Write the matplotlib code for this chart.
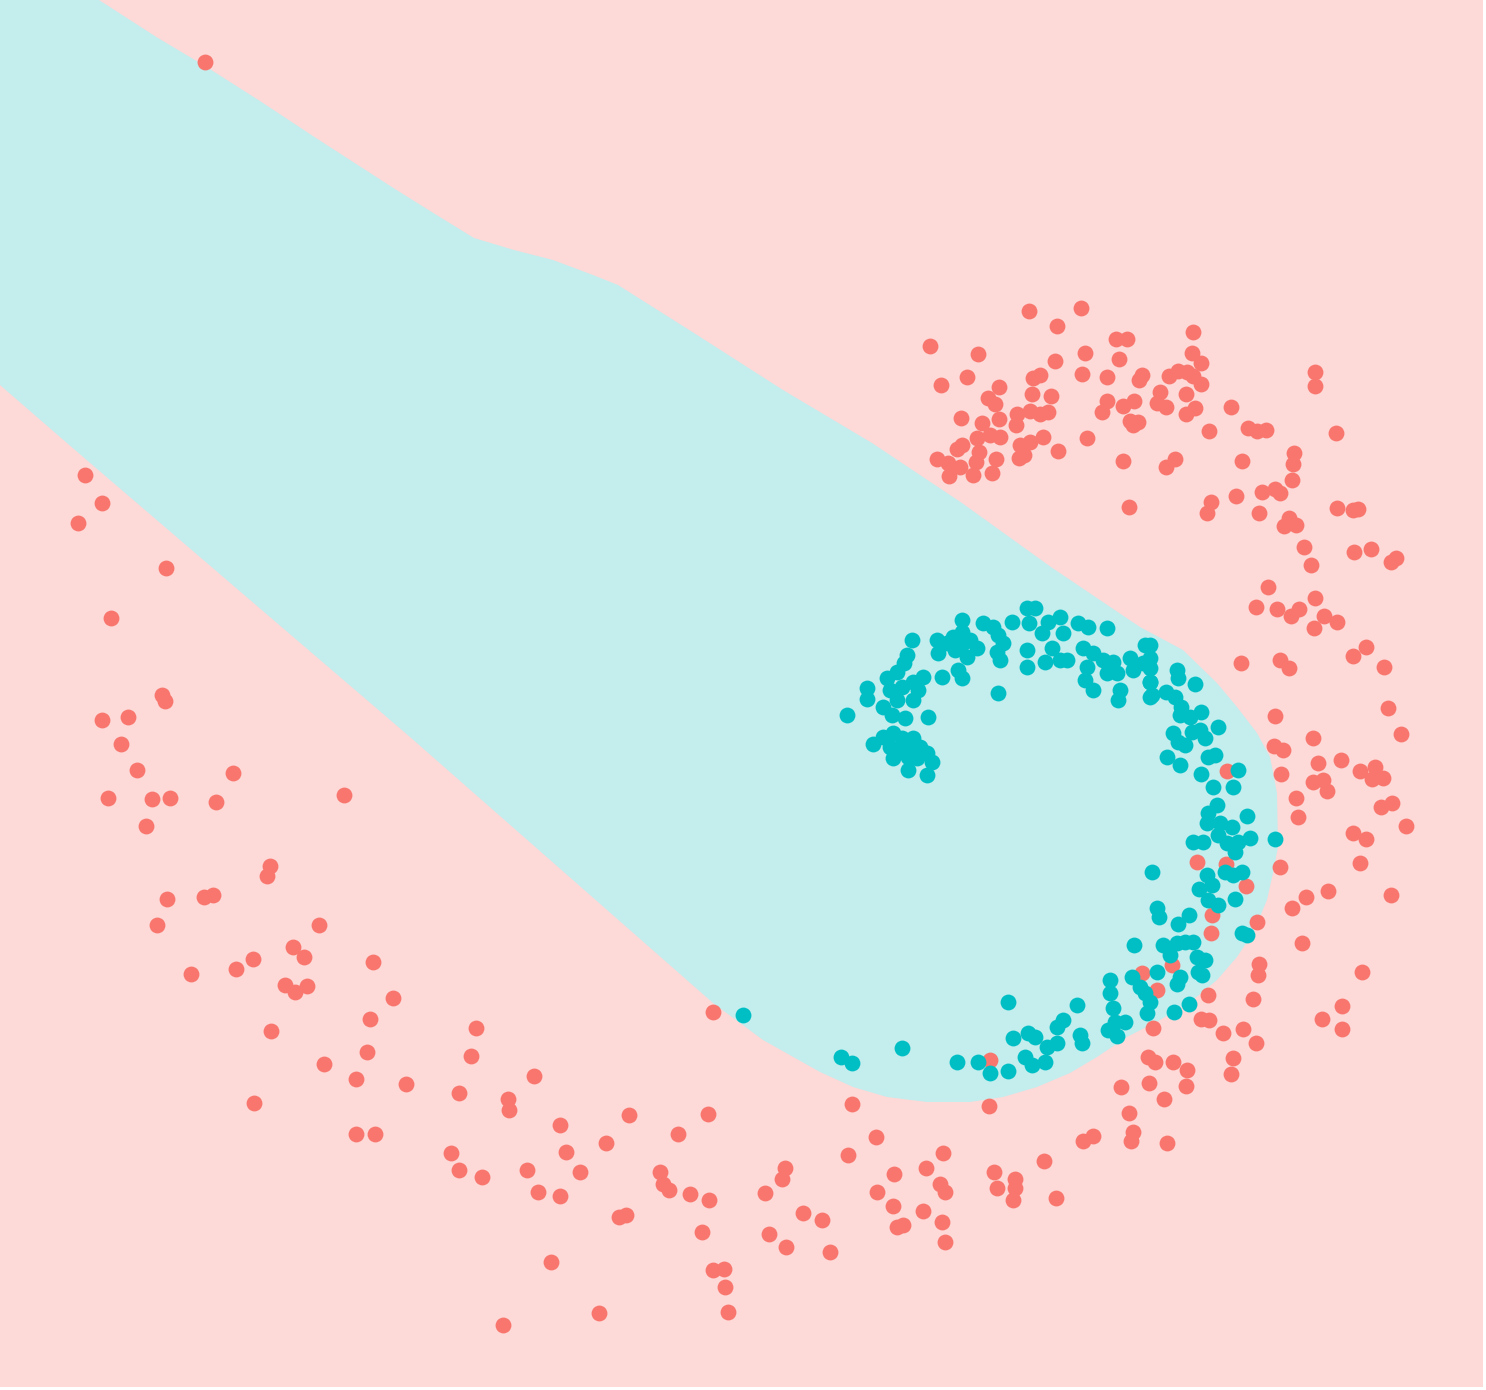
import numpy as np
import matplotlib
matplotlib.use("Agg")
import matplotlib.pyplot as plt

# ==================== DATA (image pixel coords, y down) ====================
# cyan decision region outline
region_x = [0, 99, 158, 205, 260, 316, 395, 435, 474, 514, 553, 593, 618, 694, 783,
            872, 962, 1051, 1140, 1183, 1217, 1237, 1257, 1270, 1277, 1278, 1273,
            1267, 1253, 1237, 1217, 1193, 1160, 1127, 1097, 1070, 1037, 1003, 970,
            927, 887, 853, 820, 763, 713, 410, 75, 0]
region_y = [0, 0, 38, 66, 101, 138, 189, 214, 238, 250, 260, 275, 285, 333, 390,
            443, 503, 567, 627, 650, 683, 707, 733, 757, 793, 847, 873,
            900, 933, 957, 980, 1000, 1020, 1037, 1057, 1073, 1087, 1097, 1102,
            1102, 1097, 1087, 1072, 1040, 1003, 737, 450, 385]

# class 1 (red) points
red_points = np.array([
    (205, 62),
    # top right arc
    (930, 346), (1029, 311), (1081, 308), (1057, 326), (978, 354), (941, 385), (967, 377),
    (999, 387), (988, 398), (995, 404), (961, 418), (982, 423), (999, 419), (1017, 414),
    (1016, 425), (1030, 411), (1040, 414), (1048, 412), (1032, 394), (1051, 396), (1033, 378),
    (1040, 375), (1055, 361), (1085, 353), (1082, 374), (1116, 339), (1127, 339), (1119, 359),
    (1107, 377), (1142, 375), (1139, 380), (1107, 401), (1102, 412), (1123, 406), (1134, 401),
    (1130, 421), (1138, 422), (1133, 425), (1193, 332), (1192, 353), (1201, 363), (1169, 376),
    (1178, 371), (1187, 372), (1193, 376), (1201, 384), (1160, 392), (1157, 403), (1166, 407),
    (1186, 394), (1186, 414), (1195, 408), (977, 438), (990, 435), (1000, 437), (962, 445),
    (957, 449), (979, 452), (937, 459), (948, 463), (960, 467), (976, 462), (949, 476),
    (973, 475), (996, 459), (992, 473), (1020, 445), (1030, 442), (1043, 437), (1019, 458),
    (1024, 455), (1058, 451), (1087, 438), (1123, 461), (1166, 467), (1175, 459), (1129, 507),
    (1209, 431), (1231, 407), (1248, 428), (1257, 431), (1266, 430), (1315, 372), (1315, 386),
    (1336, 433), (1294, 453), (1293, 464), (1242, 461), (1292, 480), (1262, 492), (1275, 489),
    (1280, 493), (1236, 496), (1211, 502), (1207, 513), (1259, 513), (1289, 518), (1284, 526),
    (1296, 525), (1337, 508), (1353, 510), (1358, 509), (1304, 547), (1354, 552), (1371, 549),
    (1311, 565), (1391, 562), (1396, 558),
    # right side
    (1268, 587), (1256, 607), (1277, 609), (1299, 609), (1291, 616), (1315, 598), (1324, 616),
    (1337, 622), (1314, 628), (1241, 663), (1280, 660), (1289, 668), (1353, 656), (1366, 647),
    (1384, 667), (1275, 716), (1313, 738), (1388, 708), (1401, 734), (1274, 746), (1283, 750),
    (1281, 774), (1318, 763), (1341, 760), (1360, 771), (1375, 767), (1383, 778), (1372, 779),
    (1313, 782), (1323, 780), (1327, 791), (1296, 798), (1298, 817), (1381, 807), (1392, 803),
    (1406, 826), (1353, 833), (1366, 839), (1227, 771),
    # lower right
    (1197, 862), (1226, 864), (1246, 886), (1280, 867), (1360, 863), (1391, 895), (1328, 891),
    (1306, 897), (1292, 908), (1257, 922), (1212, 915), (1211, 933), (1302, 943), (1259, 964),
    (1258, 975), (1362, 972), (1142, 973), (1157, 990), (1172, 965), (1208, 995), (1253, 999),
    (1342, 1006), (1322, 1019), (1342, 1029), (1201, 1019), (1209, 1020), (1223, 1033),
    (1243, 1029), (1256, 1043), (1153, 1028), (1233, 1058), (1231, 1074), (1148, 1057),
    (1155, 1062), (1173, 1062), (1187, 1070), (1186, 1086), (1149, 1083), (1121, 1087),
    (1164, 1099), (1129, 1113), (1133, 1132), (1131, 1141), (1167, 1143), (1093, 1136),
    (1083, 1141),
    # bottom
    (990, 1060), (852, 1104), (989, 1106), (876, 1137), (848, 1155), (943, 1153), (894, 1174),
    (926, 1168), (940, 1184), (945, 1192), (877, 1192), (893, 1206), (923, 1211), (897, 1227),
    (903, 1225), (942, 1222), (945, 1242), (994, 1172), (997, 1188), (1015, 1179), (1015, 1188),
    (1013, 1200), (1044, 1161), (1056, 1198), (822, 1220), (830, 1252),
    (713, 1012), (476, 1028), (471, 1056), (534, 1076), (459, 1093), (508, 1099), (509, 1110),
    (560, 1125), (629, 1115), (708, 1114), (678, 1134), (606, 1143), (451, 1153), (566, 1152),
    (459, 1170), (482, 1177), (527, 1170), (580, 1172), (538, 1192), (560, 1196), (660, 1172),
    (663, 1184), (669, 1190), (690, 1194), (709, 1200), (785, 1168), (782, 1179), (765, 1193),
    (803, 1213), (769, 1234), (786, 1247), (619, 1217), (626, 1215), (702, 1232),
    (713, 1270), (724, 1269), (725, 1287), (728, 1312), (551, 1262), (599, 1313), (503, 1325),
    # lower left
    (270, 866), (267, 876), (167, 899), (204, 897), (213, 895), (157, 925), (319, 925),
    (293, 947), (304, 957), (253, 959), (236, 969), (191, 974), (285, 985), (295, 992),
    (307, 986), (373, 962), (393, 998), (370, 1019), (271, 1031), (367, 1052), (324, 1064),
    (356, 1079), (406, 1084), (254, 1103), (356, 1134), (375, 1134),
    # left
    (85, 475), (102, 503), (78, 523), (166, 568), (111, 618), (162, 695), (165, 701),
    (102, 720), (128, 717), (121, 744), (137, 770), (233, 773), (108, 798), (152, 799),
    (170, 798), (216, 802), (146, 826), (344, 795),
])

# class 2 (cyan) points
cyan_points = np.array([
    # inner spiral head
    (847, 715), (873, 744), (867, 688), (867, 699), (912, 640), (907, 655), (904, 663),
    (897, 672), (887, 678), (890, 690), (902, 687), (913, 682), (923, 677), (918, 690),
    (913, 700), (897, 700), (883, 707), (892, 715), (905, 718), (928, 717), (883, 737),
    (893, 733), (902, 738), (913, 738), (890, 747), (900, 750), (910, 747), (920, 747),
    (927, 753), (893, 758), (908, 757), (917, 758), (932, 762), (908, 770), (927, 775),
    # top of spiral
    (937, 640), (938, 653), (942, 677), (947, 643), (955, 650), (953, 637), (962, 620),
    (962, 632), (963, 643), (967, 657), (958, 670), (962, 678), (970, 640), (977, 648),
    (983, 623), (993, 627), (998, 635), (1003, 643), (1012, 622), (997, 652), (1000, 660),
    (998, 693), (1027, 608), (1035, 608), (1029, 623), (1027, 650), (1027, 667), (1042, 633),
    (1048, 622), (1060, 617), (1052, 648), (1063, 633), (1045, 662), (1060, 660), (1067, 660),
    (1078, 623), (1088, 627), (1107, 628), (1083, 648), (1093, 653), (1087, 667), (1085, 680),
    (1093, 690), (1103, 660), (1113, 662), (1107, 673), (1117, 673), (1120, 690), (1118, 700),
    (1130, 658), (1133, 670), (1145, 645), (1143, 663), (1150, 682), (1150, 697),
    # right of spiral
    (1150, 645), (1150, 658), (1150, 668), (1150, 682), (1152, 695), (1177, 670), (1178, 678),
    (1195, 684), (1166, 692), (1175, 697), (1181, 707), (1180, 715), (1190, 717), (1201, 712),
    (1173, 733), (1178, 742), (1185, 745), (1192, 732), (1200, 730), (1205, 738), (1218, 727),
    (1167, 757), (1180, 765), (1208, 757), (1215, 755), (1201, 774), (1238, 770),
    (1213, 787), (1233, 787), (1217, 805), (1208, 813), (1207, 823), (1220, 823), (1232, 827),
    (1247, 816), (1275, 839), (1193, 842), (1203, 842), (1218, 835), (1227, 843), (1238, 842),
    (1250, 838), (1235, 852), (1233, 875), (1242, 872), (1225, 872), (1207, 875), (1212, 885),
    (1199, 889), (1152, 872), (1208, 900), (1218, 905), (1235, 899), (1157, 908), (1159, 917),
    (1189, 915), (1178, 924), (1242, 933), (1247, 935),
    # lower part of spiral
    (1134, 945), (1163, 945), (1177, 943), (1185, 942), (1193, 942), (1170, 955), (1197, 957),
    (1205, 960), (1198, 972), (1202, 975), (1157, 972), (1180, 977), (1177, 984), (1132, 977),
    (1140, 987), (1145, 993), (1150, 1002), (1147, 1013), (1110, 980), (1110, 993),
    (1113, 1008), (1115, 1022), (1125, 1022), (1108, 1030), (1117, 1036), (1174, 1012),
    (1189, 1004), (1077, 1005), (1063, 1020), (1057, 1027), (1080, 1035), (1082, 1043),
    (1057, 1043), (1047, 1047), (1025, 1057), (1032, 1065), (1045, 1062), (1028, 1033),
    (1035, 1037), (1013, 1038), (1008, 1002), (978, 1062), (990, 1073), (1008, 1071),
    (957, 1062), (841, 1057), (852, 1063), (902, 1048), (743, 1015),
])

# ==================== PLOT ====================
W, H = 1486, 1390
fig = plt.figure(figsize=(W / 100, H / 100), dpi=100)
ax = fig.add_axes([0, 3 / H, 1483 / W, 1387 / H])
ax.set_xlim(0, 1483)
ax.set_ylim(1387, 0)
ax.axis('off')
ax.add_patch(plt.Rectangle((0, 0), 1483, 1387, color='#FDD9D8', zorder=0))

ax.fill(region_x, region_y, color='#C4EDEE', lw=0, zorder=1)

ax.scatter(red_points[:, 0], red_points[:, 1], s=130, color='#F8766D', lw=0, zorder=2)
ax.scatter(cyan_points[:, 0], cyan_points[:, 1], s=130, color='#00BFC4', lw=0, zorder=3)

fig.savefig('out.png', dpi=100)
